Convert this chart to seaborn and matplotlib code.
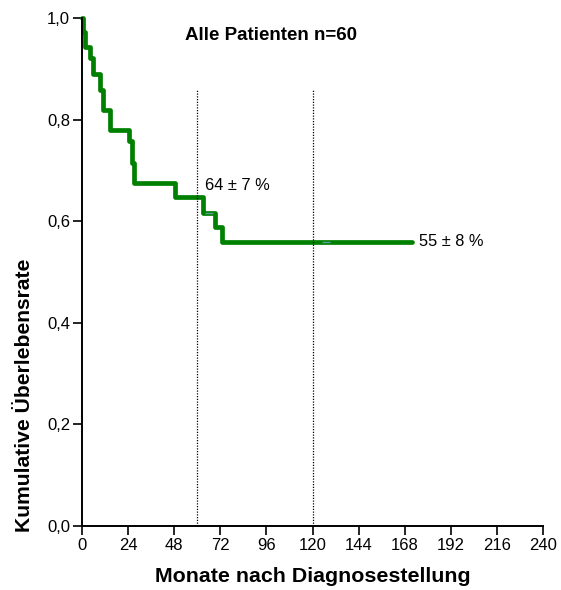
import matplotlib
matplotlib.use("Agg")
import matplotlib.pyplot as plt
import seaborn as sns
import pandas as pd

# Kaplan-Meier step data (months, cumulative survival)
months = [0, 0.4, 1.6, 4.2, 5.9, 9.4, 11.1, 14.6, 24.3, 26.0, 27.0, 48.4, 63.2, 69.2, 72.7, 171.6]
survival = [1.0, 0.972, 0.943, 0.922, 0.890, 0.858, 0.819, 0.780, 0.757, 0.714, 0.676, 0.648, 0.617, 0.589, 0.560, 0.560]
censor_months = [66.0, 127.0]
censor_surv = [0.617, 0.560]

landmarks = [60, 120]
landmark_top = 0.86
annotations = ["64 ± 7 %", "55 ± 8 %"]

x_ticks = [0, 24, 48, 72, 96, 120, 144, 168, 192, 216, 240]
y_ticks = [0.0, 0.2, 0.4, 0.6, 0.8, 1.0]
y_tick_labels = ["0,0", "0,2", "0,4", "0,6", "0,8", "1,0"]

sns.set_theme(style="ticks")
plt.rcParams['font.family'] = ['Liberation Sans', 'DejaVu Sans']
plt.rcParams['text.color'] = 'black'
plt.rcParams['axes.labelcolor'] = 'black'

W, H = 561, 590
fig = plt.figure(figsize=(W / 100, H / 100), dpi=100)
ax = fig.add_axes([82 / W, 1 - 526 / H, 461 / W, 508 / H])

df = pd.DataFrame({"Monate": months, "Survival": survival})
sns.lineplot(data=df, x="Monate", y="Survival", drawstyle="steps-post",
             color="#008000", linewidth=3.4, estimator=None, ax=ax, clip_on=False)
ax.scatter(censor_months, censor_surv, marker="_", s=40, color="#5f9ea0",
           linewidths=1.0, zorder=5)

for lm in landmarks:
    ax.vlines(lm, 0, landmark_top, colors="black", linestyles=(0, (1, 1.2)), linewidth=0.9)

ax.text(64, 0.655, annotations[0], fontsize=11.8, ha="left", va="bottom", color="black")
ax.text(175.5, 0.56, annotations[1], fontsize=11.8, ha="left", va="center", color="black")
ax.text(0.41, 0.965, "Alle Patienten n=60", transform=ax.transAxes,
        fontsize=13.5, fontweight="bold", ha="center", va="center", color="black")

ax.set_xlim(0, 240)
ax.set_ylim(0, 1.0)
ax.set_xticks(x_ticks)
ax.set_xticklabels([str(t) for t in x_ticks])
ax.set_yticks(y_ticks)
ax.set_yticklabels(y_tick_labels)
ax.tick_params(axis="both", labelsize=12, length=6.5, width=1.2, color="black",
               labelcolor="black", direction="out", pad=2)
for side in ["top", "right"]:
    ax.spines[side].set_visible(False)
for side in ["left", "bottom"]:
    ax.spines[side].set_color("black")
    ax.spines[side].set_linewidth(1.4)

ax.set_xlabel("Monate nach Diagnosestellung", fontsize=15.4, fontweight="bold", color="black")
ax.set_ylabel("Kumulative Überlebensrate", fontsize=15.2, fontweight="bold", color="black")
ax.xaxis.set_label_coords(0.5, -0.081)
ax.yaxis.set_label_coords(-0.105, 0.258)

fig.savefig("out.png", dpi=100)
